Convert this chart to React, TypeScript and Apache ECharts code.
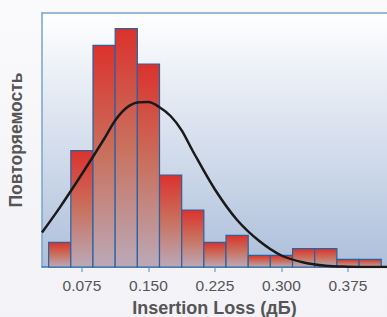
import React, { useEffect, useRef } from "react";
import * as echarts from "echarts";

const binCenters = [0.05, 0.075, 0.1, 0.125, 0.15, 0.175, 0.2, 0.225, 0.25, 0.275, 0.3, 0.325, 0.35, 0.375, 0.4];
const binWidth = 0.025;
const frequencies = [24.7, 116.3, 221.7, 238.3, 203, 92, 57, 24.7, 31.7, 11.7, 11.7, 18.3, 18.3, 7.7, 7.7];
const curveX = [0.03, 0.05, 0.075, 0.1, 0.1125, 0.125, 0.1375, 0.15, 0.1625, 0.175, 0.1875, 0.2, 0.225, 0.25, 0.275, 0.3, 0.325, 0.35, 0.375, 0.4, 0.42];
const curveY = [34.5, 59.4, 93, 128, 146.6, 159, 164.5, 165, 159.8, 151, 136.7, 116, 77.5, 47, 26, 11.5, 4.5, 1.2, 0.3, 0, 0];
const xTicks = [0.075, 0.15, 0.225, 0.3, 0.375];
const xName = "Insertion Loss (дБ)";
const yName = "Повторяемость";

const FONT = "'Liberation Sans', Arial, Helvetica, sans-serif";

export default function App() {
  const ref = useRef<HTMLDivElement>(null);
  useEffect(() => {
    if (!ref.current) return;
    const chart = echarts.init(ref.current, undefined, { renderer: "svg" });
    const barData = binCenters.map((c, i) => [c - binWidth / 2, c + binWidth / 2, frequencies[i]]);
    const barFill = new echarts.graphic.LinearGradient(0, 0, 0, 1, [
      { offset: 0, color: "#db322d" },
      { offset: 0.5, color: "#c9715f" },
      { offset: 1, color: "#bba9b8" },
    ]);
    chart.setOption({
      animation: false,
      backgroundColor: new echarts.graphic.LinearGradient(0, 0, 0, 1, [
        { offset: 0, color: "#fafafc" },
        { offset: 1, color: "#f2f2f7" },
      ]),
      grid: {
        left: 42,
        top: 13,
        right: 0,
        bottom: 50,
        containLabel: false,
        outerBoundsMode: "none",
        show: true,
        borderWidth: 0,
        backgroundColor: new echarts.graphic.LinearGradient(0, 0, 0, 1, [
          { offset: 0, color: "#ffffff" },
          { offset: 1, color: "#adbfdb" },
        ]),
      },
      xAxis: [
        {
          type: "value",
          min: 0.03,
          max: 0.419,
          splitLine: { show: false },
          axisLine: { show: true, lineStyle: { color: "#3d7ab5", width: 1.5 } },
          axisTick: { show: true, customValues: xTicks, length: 5, lineStyle: { color: "#7fb0d6", width: 1.5 } },
          axisLabel: {
            customValues: xTicks,
            formatter: (v: number) => v.toFixed(3),
            color: "#555",
            fontSize: 15.5,
            fontFamily: FONT,
            margin: 10,
          },
          name: xName,
          nameLocation: "middle",
          nameGap: 32,
          nameTextStyle: { color: "#555", fontSize: 18, fontWeight: "bold", fontFamily: FONT },
        },
        {
          type: "value",
          position: "top",
          min: 0.03,
          max: 0.419,
          splitLine: { show: false },
          axisLine: { show: true, lineStyle: { color: "#74a4cc", width: 1.5 } },
          axisTick: { show: false },
          axisLabel: { show: false },
        },
      ],
      yAxis: {
        type: "value",
        min: 0,
        max: 254,
        splitLine: { show: false },
        axisLine: { show: true, lineStyle: { color: "#74a4cc", width: 1.5 } },
        axisTick: { show: false },
        axisLabel: { show: false },
        name: yName,
        nameLocation: "middle",
        nameGap: 17,
        nameTextStyle: { color: "#555", fontSize: 17.5, fontWeight: "bold", fontFamily: FONT },
      },
      series: [
        {
          type: "custom",
          xAxisIndex: 0,
          data: barData,
          renderItem: (params: any, api: any) => {
            const p0 = api.coord([api.value(0), api.value(2)]);
            const p1 = api.coord([api.value(1), 0]);
            return {
              type: "rect",
              shape: { x: p0[0], y: p0[1], width: p1[0] - p0[0], height: p1[1] - p0[1] },
              style: { fill: barFill, stroke: "#2a62a0", lineWidth: 1.2 },
            };
          },
          z: 2,
        },
        {
          type: "line",
          xAxisIndex: 0,
          data: curveX.map((x, i) => [x, curveY[i]]),
          smooth: 0.3,
          showSymbol: false,
          lineStyle: { color: "#1a1a1a", width: 2.5 },
          z: 3,
        },
      ],
    });
    return () => chart.dispose();
  }, []);
  return <div ref={ref} style={{ position: "fixed", left: 0, top: 0, width: 387, height: 317 }} />;
}
